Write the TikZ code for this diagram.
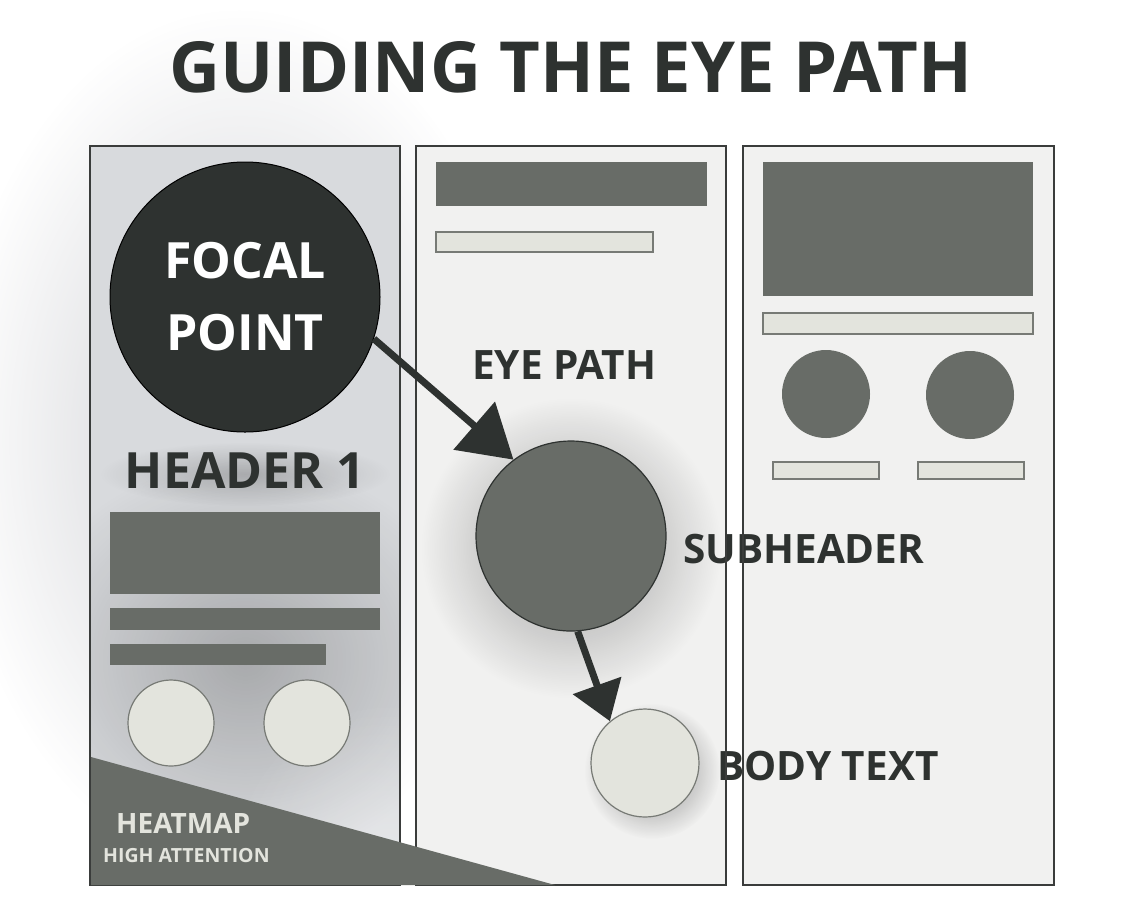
\documentclass[tikz,border=0pt]{standalone}
\usepackage{fontspec}
\setmainfont{Open Sans}
\usetikzlibrary{arrows.meta,fadings}
\definecolor{ink}{HTML}{2E3230}
\definecolor{mid}{HTML}{686C67}
\definecolor{pale}{HTML}{E3E4DD}
\definecolor{paper}{HTML}{F1F1F0}
\definecolor{edge}{HTML}{3A3C3B}
\definecolor{palestroke}{HTML}{777A75}
\definecolor{glowcol}{HTML}{B4B6BC}
\definecolor{panelgray}{HTML}{D8DADD}
\tikzfading[name=glowfade, inner color=transparent!0, outer color=transparent!100]
\begin{document}
\begin{tikzpicture}[x=1pt,y=-1pt,
  panel/.style={draw=edge, line width=1.5pt},
  block/.style={fill=mid},
  bar/.style={fill=pale, draw=palestroke, line width=1.2pt},
  dot/.style={circle, inner sep=0pt},
  label/.style={text=ink, font=\fontsize{40.5}{46}\selectfont\bfseries, inner sep=0pt},
  path arrow/.style={draw=ink, line width=7pt}
]
\useasboundingbox (0,0) rectangle (1142,914);
\fill[white] (0,0) rectangle (1142,914);

% left panel glow (outside)
\fill[glowcol, opacity=0.65, path fading=glowfade] (240,440) ellipse (290 and 430);

% title
\node[text=ink, font=\fontsize{70.5}{76}\selectfont\bfseries, anchor=base, inner sep=0pt] (title) at (571,92) {GUIDING THE EYE PATH};

% panels
\fill[panelgray] (90,146) rectangle (400,885);
\begin{scope}
  \clip (90,146) rectangle (400,885);
  \fill[black, opacity=0.22, path fading=glowfade] (245,660) ellipse (230 and 200);
  \fill[white, opacity=0.35, path fading=glowfade] (390,860) ellipse (160 and 160);
\end{scope}
\fill[paper] (416,146) rectangle (726,885);
\fill[paper] (743,146) rectangle (1054,885);

% panel 1 content
\node[dot, fill=ink, draw=black, line width=1pt, minimum size=270pt, text=white,
  font=\fontsize{50}{72}\selectfont\bfseries, align=center] (focal) at (245,297) {FOCAL\\POINT};
\fill[black, opacity=0.2, path fading=glowfade] (245,474) ellipse (145 and 32);
\node[text=ink, font=\fontsize{50}{54}\selectfont\bfseries, anchor=base, inner sep=0pt] (header) at (245,488) {HEADER 1};
\fill[block] (110,512) rectangle (380,594);
\fill[block] (110,608) rectangle (380,630);
\fill[block] (110,644) rectangle (326,665);
\node[dot, fill=pale, draw=palestroke, line width=1.2pt, minimum size=86pt] (c1a) at (171,723) {};
\node[dot, fill=pale, draw=palestroke, line width=1.2pt, minimum size=86pt] (c1b) at (307,723) {};

% panel 2 content
\fill[block] (436,162) rectangle (707,206);
\fill[bar] (436,232) rectangle (653,252);
\node[label, anchor=base west] (eyepath) at (472,379) {EYE PATH};
\fill[black, opacity=0.35, path fading=glowfade] (571,548) circle (150);
\node[dot, fill=mid, draw=ink, line width=1.2pt, minimum size=190pt] (sub) at (571,536) {};
\node[label, anchor=base west] (sublabel) at (683,563) {SUBHEADER};
\fill[black, opacity=0.45, path fading=glowfade] (652,771) circle (68);
\node[dot, fill=pale, draw=palestroke, line width=1.2pt, minimum size=108pt] (body) at (645,763) {};
\node[label, anchor=base west] (bodylabel) at (717,780) {BODY TEXT};

% panel 3 content
\fill[block] (763,162) rectangle (1033,296);
\fill[bar] (763,313) rectangle (1033,334);
\node[dot, fill=mid, minimum size=88pt] (c3a) at (826,394) {};
\node[dot, fill=mid, minimum size=88pt] (c3b) at (970,395) {};
\fill[bar] (773,462) rectangle (879,479);
\fill[bar] (918,462) rectangle (1024,479);

% panel borders
\draw[panel] (90,146) rectangle (400,885);
\draw[panel] (416,146) rectangle (726,885);
\draw[panel] (743,146) rectangle (1054,885);

% heatmap
\fill[mid] (91,757) -- (555,885) -- (91,885) -- cycle;
\node[text=pale, font=\fontsize{28}{32}\selectfont\bfseries, anchor=base west, inner sep=0pt] (heat) at (116,833) {HEATMAP};
\node[text=pale, font=\fontsize{19.5}{22}\selectfont\bfseries, anchor=base west, inner sep=0pt] (high) at (103,862) {HIGH ATTENTION};

% eye path arrows
\draw[path arrow, -{Triangle[length=52pt,width=62pt]}] (focal.-18) -- (sub.127);
\draw[path arrow, -{Triangle[length=38pt,width=50pt]}] (sub.-86) -- (body.130);
\end{tikzpicture}
\end{document}
